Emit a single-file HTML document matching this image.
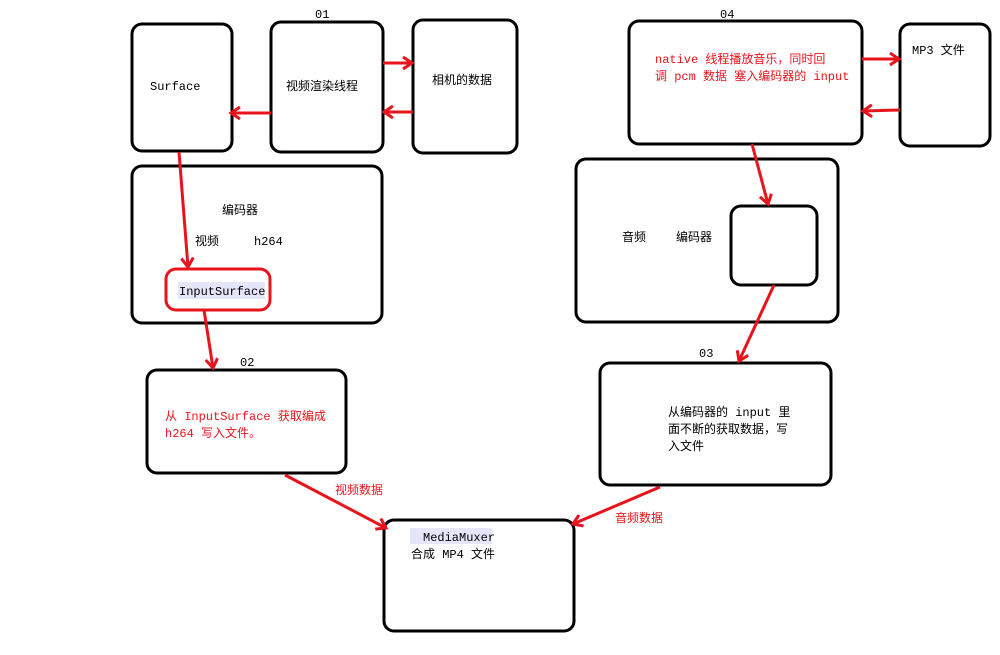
<!DOCTYPE html>
<html><head><meta charset="utf-8"><style>
html,body{margin:0;padding:0;background:#fff;}
svg text{font-family:"Liberation Mono","Noto Sans CJK SC",monospace;font-size:12px;}
</style></head><body>
<svg width="1000" height="650" xmlns="http://www.w3.org/2000/svg">
<defs>
<marker id="a" markerWidth="14" markerHeight="14" refX="10" refY="7" orient="auto" markerUnits="userSpaceOnUse">
<path d="M1,1 L10,7 L1,13" fill="none" stroke="#e8141c" stroke-width="3"/>
</marker>
</defs>
<g fill="none" stroke="#000" stroke-width="3">
<rect x="132" y="24" width="100" height="127" rx="10"/>
<rect x="271" y="22" width="112" height="130" rx="10"/>
<rect x="413" y="20" width="104" height="133" rx="10"/>
<rect x="132" y="166" width="250" height="157" rx="10"/>
<rect x="147" y="370" width="199" height="103" rx="10"/>
<rect x="629" y="21" width="233" height="123" rx="10"/>
<rect x="900" y="24" width="90" height="122" rx="10"/>
<rect x="576" y="159" width="262" height="163" rx="10"/>
<rect x="731" y="206" width="86" height="79" rx="10"/>
<rect x="600" y="363" width="231" height="122" rx="10"/>
<rect x="384" y="520" width="190" height="111" rx="10"/>
</g>
<rect x="166" y="269" width="104" height="41" rx="10" fill="none" stroke="#e8141c" stroke-width="3"/>
<rect x="178" y="282" width="87" height="17" fill="#e6e6fa"/>
<rect x="410" y="528" width="82" height="16" fill="#e6e6fa"/>
<g stroke="#e8141c" stroke-width="3" fill="none" marker-end="url(#a)">
<line x1="383" y1="63" x2="412" y2="63"/>
<line x1="413" y1="112" x2="384" y2="112"/>
<line x1="271" y1="113" x2="231" y2="113"/>
<line x1="179" y1="152" x2="188" y2="267"/>
<line x1="204" y1="310" x2="213" y2="368"/>
<line x1="752" y1="144" x2="768" y2="204"/>
<line x1="862" y1="59" x2="899" y2="59"/>
<line x1="900" y1="110" x2="863" y2="111"/>
<line x1="774" y1="285" x2="739" y2="361"/>
<line x1="285" y1="475" x2="386" y2="528"/>
<line x1="660" y1="487" x2="573" y2="524"/>
</g>
<g fill="#000">
<text x="315" y="18">01</text>
<text x="240" y="366">02</text>
<text x="699" y="357">03</text>
<text x="720" y="18">04</text>
<text x="150" y="90">Surface</text>
<text x="286" y="90">视频渲染线程</text>
<text x="432" y="84">相机的数据</text>
<text x="222" y="214">编码器</text>
<text x="195" y="245">视频</text>
<text x="254" y="245">h264</text>
<text x="179" y="295">InputSurface</text>
<text x="912" y="54">MP3 文件</text>
<text x="622" y="241">音频</text>
<text x="676" y="241">编码器</text>
<text x="668" y="416">从编码器的 input 里</text>
<text x="668" y="433">面不断的获取数据，写</text>
<text x="668" y="450">入文件</text>
<text x="423" y="541">MediaMuxer</text>
<text x="411" y="558">合成 MP4 文件</text>
</g>
<g fill="#e8141c">
<text x="655" y="63">native 线程播放音乐，同时回</text>
<text x="655" y="80">调 pcm 数据 塞入编码器的 input</text>
<text x="165" y="420">从 InputSurface 获取编成</text>
<text x="165" y="437">h264 写入文件。</text>
<text x="335" y="494">视频数据</text>
<text x="615" y="522">音频数据</text>
</g>
</svg>
</body></html>
